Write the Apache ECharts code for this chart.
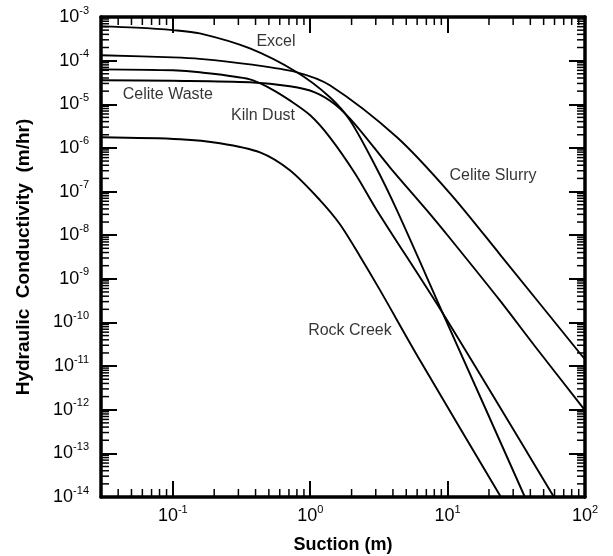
<!DOCTYPE html>
<html>
<head>
<meta charset="utf-8">
<script src="https://cdn.jsdelivr.net/npm/echarts@6/dist/echarts.min.js"></script>
<style>
  html, body { margin: 0; padding: 0; background: #fff; }
  #chart { width: 613px; height: 556px; }
</style>
</head>
<body>
<div id="chart"></div>
<script>
// Unsaturated hydraulic conductivity functions: suction (m) vs K (m/hr)
const excelSuction = [0.03, 0.054, 0.1, 0.157, 0.364, 0.80, 1.39, 1.945, 2.96, 4.28, 9.25, 36.5, 48];
const excelK       = [6.1e-4, 5.7e-4, 5.0e-4, 4.2e-4, 1.9e-4, 5.4e-5, 1.45e-5, 4.3e-6, 4.0e-7, 3.7e-8, 1.6e-10, 1.0e-14, 1.3e-15];

const kilnSuction = [0.03, 0.1, 0.157, 0.364, 0.51, 0.71, 1.0, 1.39, 2.12, 3.06, 9.25, 59, 72];
const kilnK       = [6.3e-5, 6.0e-5, 5.4e-5, 3.73e-5, 2.32e-5, 1.23e-5, 5.6e-6, 1.75e-6, 2.6e-7, 3.7e-8, 1.6e-10, 1.04e-14, 3.5e-15];

const slurrySuction = [0.03, 0.1, 0.157, 0.364, 0.80, 1.39, 4.28, 10.4, 24.0, 91.8, 100];
const slurryK       = [1.33e-4, 1.19e-4, 1.10e-4, 8.2e-5, 5.4e-5, 2.72e-5, 1.75e-6, 9.1e-8, 3.65e-9, 1.97e-11, 1.44e-11];

const wasteSuction = [0.03, 0.1, 0.364, 0.711, 1.08, 1.51, 2.12, 3.80, 7.07, 10.4, 24.0, 43.2, 100];
const wasteK       = [3.55e-5, 3.45e-5, 3.19e-5, 2.58e-5, 1.88e-5, 1.0e-5, 3.48e-6, 3.6e-7, 3.7e-8, 8.5e-9, 3.2e-10, 2.85e-11, 9.7e-13];

const rockSuction = [0.03, 0.113, 0.22, 0.431, 0.711, 1.18, 1.645, 2.30, 3.22, 6.29, 24.0, 30.9];
const rockK       = [1.75e-6, 1.58e-6, 1.28e-6, 7.9e-7, 3.07e-7, 6.3e-8, 1.78e-8, 3.3e-9, 5.5e-10, 1.36e-11, 1.1e-14, 3.0e-15];

// Curve names and where each name sits (suction, K)
const curveNames   = ['Excel', 'Celite Waste', 'Kiln Dust', 'Celite Slurry', 'Rock Creek'];
const nameSuction  = [0.563, 0.092, 0.453, 21.4, 1.945];
const nameK        = [2.77e-4, 1.69e-5, 5.6e-6, 2.36e-7, 6.6e-11];

// Axis ranges and labelled decades
const X_MIN = 0.03, X_MAX = 100;
const Y_MIN = 1e-14, Y_MAX = 1e-3;
const xDecades = [-1, 0, 1, 2];
const yDecades = [-14, -13, -12, -11, -10, -9, -8, -7, -6, -5, -4, -3];

const FONT = '"Liberation Sans", Arial, Helvetica, sans-serif';
const MAJOR = 16, MINOR = 8;

function powerLabel(v, decades) {
  const lg = Math.log10(v);
  const e = Math.round(lg);
  if (Math.abs(lg - e) > 1e-6 || decades.indexOf(e) < 0) return '';
  return '{b|10}{s|' + e + '}';
}
const powerRich = {
  b: { fontSize: 18, lineHeight: 24, fontFamily: FONT, color: '#000' },
  s: { fontSize: 11, lineHeight: 12, fontFamily: FONT, color: '#000', verticalAlign: 'top' }
};

// minor tick positions: 2..9 times each power of ten inside the range
function minorValues(lo, hi) {
  const out = [];
  for (let e = Math.floor(Math.log10(lo)); e <= Math.ceil(Math.log10(hi)); e++) {
    for (let m = 2; m <= 9; m++) {
      const v = m * Math.pow(10, e);
      if (v > lo * 1.0001 && v < hi * 0.9999) out.push(v);
    }
  }
  return out;
}
const xMinor = minorValues(X_MIN, X_MAX);
const yMinor = minorValues(Y_MIN, Y_MAX);

const tickStyle = { stroke: '#000', lineWidth: 1.5 };
function xMinorTicks(params, api) {
  const v = api.value(0);
  const b = api.coord([v, Y_MIN]);
  const t = api.coord([v, Y_MAX]);
  return { type: 'group', children: [
    { type: 'line', shape: { x1: b[0], y1: b[1], x2: b[0], y2: b[1] - MINOR }, style: tickStyle },
    { type: 'line', shape: { x1: t[0], y1: t[1], x2: t[0], y2: t[1] + MINOR }, style: tickStyle }
  ]};
}
function yMinorTicks(params, api) {
  const v = api.value(1);
  const l = api.coord([X_MIN, v]);
  const r = api.coord([X_MAX, v]);
  return { type: 'group', children: [
    { type: 'line', shape: { x1: l[0], y1: l[1], x2: l[0] + MINOR, y2: l[1] }, style: tickStyle },
    { type: 'line', shape: { x1: r[0], y1: r[1], x2: r[0] - MINOR, y2: r[1] }, style: tickStyle }
  ]};
}

function zip(xs, ys) { return xs.map((x, i) => [x, ys[i]]); }
function curve(name, xs, ys) {
  return {
    name, type: 'line', data: zip(xs, ys), smooth: 0.3, symbol: 'none', clip: true,
    lineStyle: { color: '#000', width: 1.9 }, z: 3
  };
}

const axisLine = { show: true, onZero: false, lineStyle: { color: '#000', width: 3.5 } };
const axisTick = { show: true, inside: true, length: MAJOR, lineStyle: { color: '#000', width: 2 } };

const chart = echarts.init(document.getElementById('chart'), null, { renderer: 'canvas' });
chart.setOption({
  animation: false,
  backgroundColor: '#fff',
  grid: { left: 101, right: 28, top: 17, bottom: 59, containLabel: false, outerBoundsMode: 'none' },
  xAxis: [
    {
      type: 'log', min: X_MIN, max: X_MAX, splitNumber: 4, position: 'bottom',
      axisLine, axisTick, splitLine: { show: false }, minorTick: { show: false },
      axisLabel: {
        margin: 7, showMinLabel: true, showMaxLabel: true,
        formatter: v => powerLabel(v, xDecades), rich: powerRich
      },
      name: 'Suction (m)', nameLocation: 'middle', nameGap: 39,
      nameTextStyle: { fontSize: 18, fontWeight: 'bold', fontFamily: FONT, color: '#000' }
    },
    {
      type: 'log', min: X_MIN, max: X_MAX, splitNumber: 4, position: 'top',
      axisLine, axisTick, splitLine: { show: false }, axisLabel: { show: false }
    }
  ],
  yAxis: [
    {
      type: 'log', min: Y_MIN, max: Y_MAX, interval: 1, position: 'left',
      axisLine, axisTick, splitLine: { show: false }, minorTick: { show: false },
      axisLabel: {
        margin: 12, showMinLabel: true, showMaxLabel: true,
        formatter: v => powerLabel(v, yDecades), rich: powerRich
      },
      name: 'Hydraulic  Conductivity  (m/hr)', nameLocation: 'middle', nameGap: 68,
      nameTextStyle: { fontSize: 19, fontWeight: 'bold', fontFamily: FONT, color: '#000' }
    },
    {
      type: 'log', min: Y_MIN, max: Y_MAX, interval: 1, position: 'right',
      axisLine, axisTick, splitLine: { show: false }, axisLabel: { show: false }
    }
  ],
  series: [
    curve('Excel', excelSuction, excelK),
    curve('Kiln Dust', kilnSuction, kilnK),
    curve('Celite Slurry', slurrySuction, slurryK),
    curve('Celite Waste', wasteSuction, wasteK),
    curve('Rock Creek', rockSuction, rockK),
    {
      type: 'custom', silent: true, clip: false, renderItem: xMinorTicks,
      data: xMinor.map(v => [v, Y_MIN]), z: 4
    },
    {
      type: 'custom', silent: true, clip: false, renderItem: yMinorTicks,
      data: yMinor.map(v => [X_MIN, v]), z: 4
    },
    {
      type: 'scatter', silent: true, symbolSize: 1,
      itemStyle: { color: 'rgba(0,0,0,0)' },
      data: curveNames.map((n, i) => ({ name: n, value: [nameSuction[i], nameK[i]] })),
      label: {
        show: true, position: 'inside', formatter: p => p.name,
        fontSize: 16, fontFamily: FONT, color: '#000'
      },
      z: 5
    }
  ]
});
</script>
</body>
</html>
